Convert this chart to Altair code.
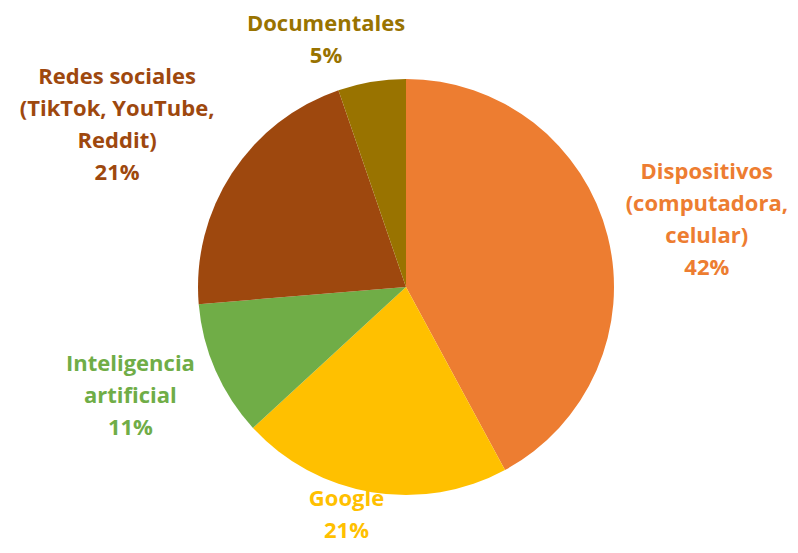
import altair as alt
import pandas as pd

categories = [
    "Dispositivos\n(computadora,\ncelular)",
    "Google",
    "Inteligencia\nartificial",
    "Redes sociales\n(TikTok, YouTube,\nReddit)",
    "Documentales",
]
keys = ["disp", "google", "ia", "redes", "docs"]
values = [8, 4, 2, 4, 1]
colors = ["#ED7D31", "#FFC000", "#70AD47", "#9E480E", "#997300"]

total = sum(values)
pcts = [round(v / total * 100) for v in values]
df = pd.DataFrame({
    "key": keys,
    "cat": categories,
    "value": values,
    "order": list(range(len(values))),
    "label": [f"{c}\n{p}%" for c, p in zip(categories, pcts)],
})

color_scale = alt.Scale(domain=keys, range=colors)

base = alt.Chart(df).encode(
    theta=alt.Theta("value:Q", stack=True),
    order=alt.Order("order:Q"),
    color=alt.Color("key:N", scale=color_scale, legend=None),
)

pie = base.mark_arc(outerRadius=208)

# label placement (radius from centre, pixel nudge of first line) per slice
label_layout = {
    "disp": (300, 10, -41),
    "google": (240, -20, -25),
    "ia": (290, -10, -39),
    "redes": (320, -21, -35),
    "docs": (255, -38, -11),
}

layers = [pie]
for k in keys:
    r, dx, dy = label_layout[k]
    layers.append(
        base.transform_calculate(t=f"datum.key == '{k}' ? datum.label : ''")
        .mark_text(
            radius=r, dx=dx, dy=dy, font="Open Sans", fontWeight="bold",
            fontSize=22, lineHeight=32, lineBreak="\n",
            align="center", baseline="middle",
        )
        .encode(text="t:N")
    )

chart = alt.layer(*layers).properties(
    width=760, height=512,
    autosize="none",
    padding={"left": 18, "top": 23, "right": 4, "bottom": 1},
).configure_view(stroke=None)

chart.save("out.html", embed_options={"renderer": "svg", "actions": False})
